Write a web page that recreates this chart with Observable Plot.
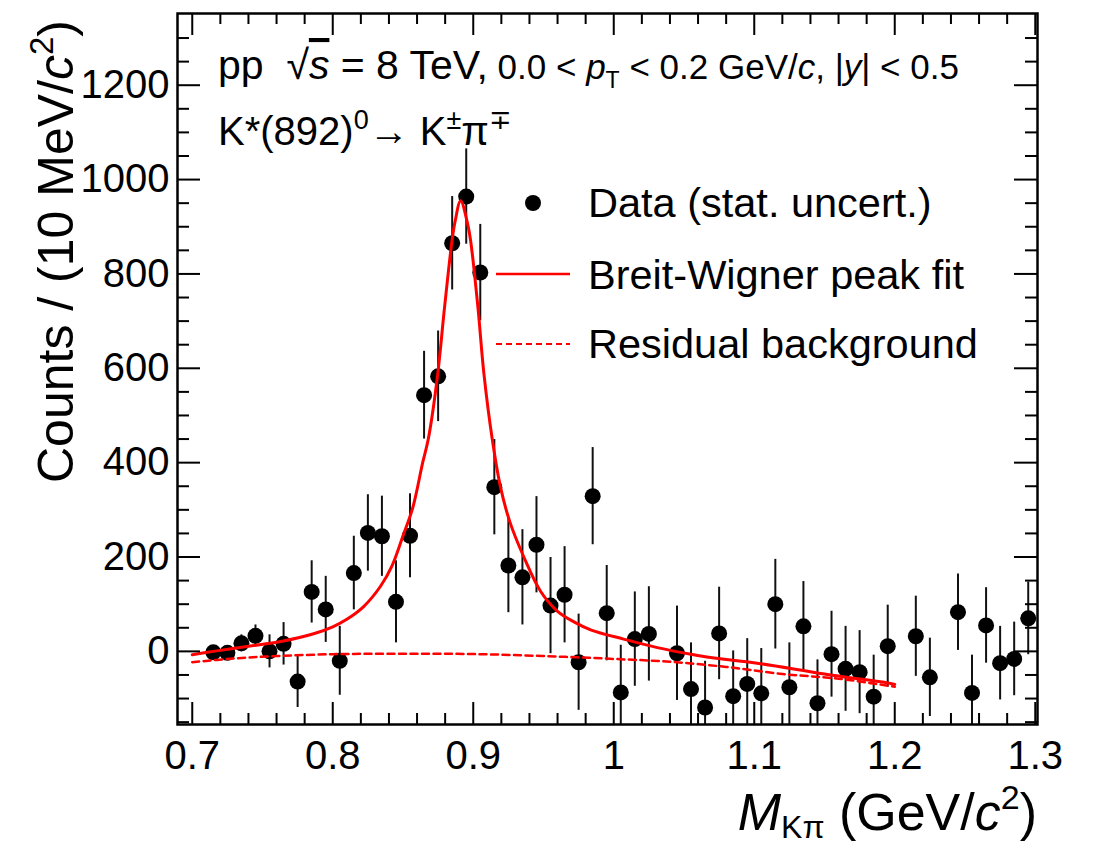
<!DOCTYPE html>
<html><head><meta charset="utf-8">
<script src="https://cdn.jsdelivr.net/npm/d3@7"></script>
<script src="https://cdn.jsdelivr.net/npm/@observablehq/plot@0.6"></script>
<style>
body{margin:0;background:#fff;}
#chart{width:1096px;height:844px;}
</style></head><body><div id="chart"></div>
<script>
// ---- data ----
const massBins = [0.715,0.725,0.735,0.745,0.755,0.765,0.775,0.785,0.795,0.805,
  0.815,0.825,0.835,0.845,0.855,0.865,0.875,0.885,0.895,0.905,
  0.915,0.925,0.935,0.945,0.955,0.965,0.975,0.985,0.995,1.005,
  1.015,1.025,1.045,1.055,1.065,1.075,1.085,1.095,1.105,1.115,
  1.125,1.135,1.145,1.155,1.165,1.175,1.185,1.195,1.215,1.225,
  1.245,1.255,1.265,1.275,1.285,1.295];
const counts = [-2,-3,17,33,0,16,-64,126,89,-20,
  166,251,244,105,245,543,583,865,964,803,
  348,182,157,226,97,120,-23,329,81,-87,
  26,37,-4,-80,-119,38,-95,-69,-89,100,
  -76,53,-110,-6,-37,-44,-96,11,32,-55,
  83,-88,55,-25,-16,70];
const statErr = [12,15,18,23,35,45,55,66,70,73,
  78,81,85,87,89,93,96,99,101,102,
  101,100,101,102,102,102,102,103,101,100,
  100,100,100,98,98,98,96,96,95,95,
  94,95,92,91,90,88,88,87,85,83,
  81,80,80,78,78,77];
// Breit-Wigner peak fit curve, sampled from the figure
const fitMass = [0.700,0.715,0.740,0.763,0.787,0.800,0.810,0.822,0.834,0.842,
  0.850,0.857,0.864,0.868,0.8744,0.8796,0.8849,0.887,0.891,0.8957,
  0.8981,0.9033,0.9076,0.9135,0.9194,0.926,0.936,0.948,0.960,0.972,
  0.984,1.007,1.031,1.055,1.069,1.102,1.150,1.197,1.200];
const fitCounts = [-7,0,11,21,38,52,68,95,138,180,
  245,305,400,450,580,730,871,910,955,910,
  871,730,588,450,348,275,200,127,85,62,
  45,26,8,-6,-13,-25,-48,-68,-70];
// Residual background curve, sampled from the figure
const bgMass = [0.700,0.730,0.760,0.800,0.840,0.880,0.920,0.960,1.000,1.040,1.080,1.120,1.160,1.200];
const bgCounts = [-23,-15,-10,-6,-5,-5,-7,-11,-16,-22,-33,-48,-58,-75];
// axes
const xDomain = [0.6895, 1.3016];
const yDomain = [-155, 1352];
const xMajorTicks = [0.7,0.8,0.9,1.0,1.1,1.2,1.3];
const xTickLabels = ["0.7","0.8","0.9","1","1.1","1.2","1.3"];
const xMinorTicks = [0.72,0.74,0.76,0.78,0.82,0.84,0.86,0.88,0.92,0.94,0.96,0.98,
  1.02,1.04,1.06,1.08,1.12,1.14,1.16,1.18,1.22,1.24,1.26,1.28];
const yMajorTicks = [0,200,400,600,800,1000,1200];
const yTickLabels = ["0","200","400","600","800","1000","1200"];
const yMinorTicks = [-150,-100,-50,50,100,150,250,300,350,450,500,550,650,700,750,
  850,900,950,1050,1100,1150,1250,1300];
const legendLabels = ["Data (stat. uncert.)","Breit-Wigner peak fit","Residual background"];

// ---- build tables ----
const rows = massBins.map((m,i)=>({m, v: counts[i], e: statErr[i]}));
const fit = fitMass.map((m,i)=>({m, v: fitCounts[i]}));
const bg = bgMass.map((m,i)=>({m, v: bgCounts[i]}));

const FONT = "'Liberation Sans', Arial, Helvetica, sans-serif";
const W = 1096, H = 844, mL = 177, mR = 59, mT = 13, mB = 120;
const frameW = W - mL - mR, frameH = H - mT - mB;
const RED = "#ff0000";
const lab = (ticks, labels) => d => labels[ticks.findIndex(t => Math.abs(t - d) < 1e-9)];

const plot = Plot.plot({
  width: W, height: H,
  marginLeft: mL, marginRight: mR, marginTop: mT, marginBottom: mB,
  style: {fontFamily: FONT, fontSize: "40px", color: "black", background: "white", overflow: "visible"},
  x: {domain: xDomain, ticks: xMajorTicks, tickSize: 0, tickPadding: 16, tickFormat: lab(xMajorTicks, xTickLabels), label: null},
  y: {domain: yDomain, ticks: yMajorTicks, tickSize: 0, tickPadding: 8, tickFormat: lab(yMajorTicks, yTickLabels), label: null},
  marks: [
    Plot.ruleX(rows, {x: "m", y1: d => d.v - d.e, y2: d => d.v + d.e, stroke: "#111", strokeWidth: 2, clip: true}),
    Plot.dot(rows, {x: "m", y: "v", r: 8, fill: "black", stroke: "none", clip: true}),
    Plot.line(bg, {x: "m", y: "v", stroke: RED, strokeWidth: 2.5, strokeDasharray: "7,4.5", curve: "catmull-rom", clip: true}),
    Plot.line(fit, {x: "m", y: "v", stroke: RED, strokeWidth: 3, curve: "catmull-rom", clip: true}),
    // inward ticks on all four sides
    Plot.tickX(xMajorTicks, {x: d => d, insetTop: frameH - 22, stroke: "black", strokeWidth: 2}),
    Plot.tickX(xMinorTicks, {x: d => d, insetTop: frameH - 11, stroke: "black", strokeWidth: 2}),
    Plot.tickX(xMajorTicks, {x: d => d, insetBottom: frameH - 22, stroke: "black", strokeWidth: 2}),
    Plot.tickX(xMinorTicks, {x: d => d, insetBottom: frameH - 11, stroke: "black", strokeWidth: 2}),
    Plot.tickY(yMajorTicks, {y: d => d, insetRight: frameW - 23, stroke: "black", strokeWidth: 2}),
    Plot.tickY(yMinorTicks, {y: d => d, insetRight: frameW - 12, stroke: "black", strokeWidth: 2}),
    Plot.tickY(yMajorTicks, {y: d => d, insetLeft: frameW - 23, stroke: "black", strokeWidth: 2}),
    Plot.tickY(yMinorTicks, {y: d => d, insetLeft: frameW - 12, stroke: "black", strokeWidth: 2}),
    Plot.frame({stroke: "black", strokeWidth: 2.5})
  ]
});
document.getElementById("chart").appendChild(plot);

// ---- text annotations and legend ----
const svg = d3.select(plot);
const g = svg.append("g").attr("font-family", FONT).attr("fill", "black")
  .attr("text-anchor", "start").style("white-space", "pre");

// line 1
const t1 = g.append("text").attr("x", 218).attr("y", 79).attr("font-size", 41);
t1.append("tspan").text("pp  √");
t1.append("tspan").attr("font-style", "italic").style("text-decoration", "overline").text("s");
t1.append("tspan").text(" = 8 TeV,");
t1.append("tspan").attr("font-size", 35).text(" 0.0 < ");
t1.append("tspan").attr("font-size", 35).attr("font-style", "italic").text("p");
t1.append("tspan").attr("font-size", 23).attr("dy", 9).text("T");
t1.append("tspan").attr("font-size", 35).attr("dy", -9).text(" < 0.2 GeV/");
t1.append("tspan").attr("font-size", 35).attr("font-style", "italic").text("c");
t1.append("tspan").attr("font-size", 35).text(", |");
t1.append("tspan").attr("font-size", 35).attr("font-style", "italic").text("y");
t1.append("tspan").attr("font-size", 35).text("| < 0.5");

// line 2
const t2 = g.append("text").attr("x", 218).attr("y", 145).attr("font-size", 40);
t2.append("tspan").text("K*(892)");
t2.append("tspan").attr("font-size", 27).attr("dy", -16).text("0");
t2.append("tspan").attr("dy", 16).text("→ K");
t2.append("tspan").attr("font-size", 27).attr("dy", -16).text("±");
t2.append("tspan").attr("dy", 16).text("π");
t2.append("tspan").attr("font-size", 27).attr("dy", -16).text("∓");

// legend
g.append("circle").attr("cx", 533).attr("cy", 203).attr("r", 8).attr("fill", "black");
g.append("line").attr("x1", 496).attr("x2", 570).attr("y1", 274).attr("y2", 274).attr("stroke", RED).attr("stroke-width", 2.5);
g.append("line").attr("x1", 496).attr("x2", 570).attr("y1", 344).attr("y2", 344).attr("stroke", RED).attr("stroke-width", 2).attr("stroke-dasharray", "6,4");
legendLabels.forEach((s, i) => {
  g.append("text").attr("x", 588).attr("y", [217, 289, 358][i]).attr("font-size", 41.5).text(s);
});

// x-axis title
const xt = g.append("text").attr("x", 1037).attr("y", 830).attr("font-size", 52).attr("text-anchor", "end");
xt.append("tspan").attr("font-style", "italic").text("M");
xt.append("tspan").attr("font-size", 32).attr("dy", 8).text("Kπ");
xt.append("tspan").attr("dy", -8).text(" (GeV/");
xt.append("tspan").attr("font-style", "italic").text("c");
xt.append("tspan").attr("font-size", 34).attr("dy", -21).text("2");
xt.append("tspan").attr("dy", 21).text(")");

// y-axis title
const yt = g.append("text").attr("transform", "translate(73,20) rotate(-90)").attr("font-size", 50).attr("text-anchor", "end");
yt.append("tspan").text("Counts / (10 MeV/");
yt.append("tspan").attr("font-style", "italic").text("c");
yt.append("tspan").attr("font-size", 33).attr("dy", -20).text("2");
yt.append("tspan").attr("dy", 20).text(")");
</script>
</body></html>
